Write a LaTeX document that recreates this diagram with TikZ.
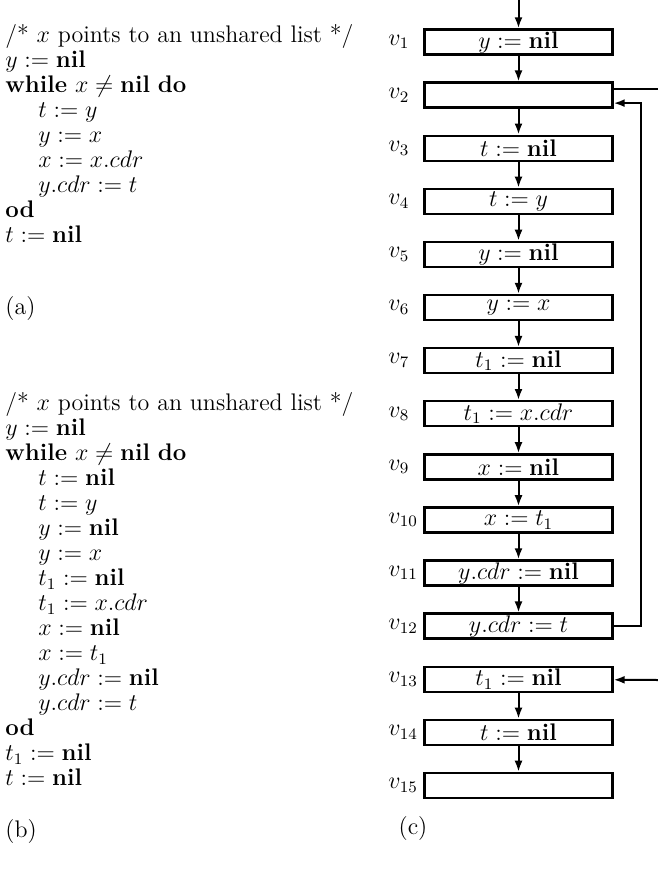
\documentclass[tikz,border=0pt]{standalone}
\usepackage{amsmath,amssymb}
\usetikzlibrary{arrows.meta,positioning,calc}

\newcommand{\nil}{\textbf{nil}}
\newcommand{\indt}{\hspace*{16.5pt}}

\begin{document}
\begin{tikzpicture}[x=0.5pt, y=-0.5pt,
  code/.style={anchor=north west, inner sep=0pt, align=left, font=\fontsize{12}{12.5}\selectfont},
  stmt/.style={draw, line width=1.2pt, minimum width=94pt, minimum height=12.5pt, inner sep=0pt, font=\fontsize{12}{13}\selectfont},
  vlab/.style={anchor=west, inner sep=0pt, font=\fontsize{12}{13}\selectfont},
  flow/.style={-{Latex[length=5.5pt,width=4pt]}, line width=1pt}]
  \useasboundingbox (0,0) rectangle (658,869);

  % Program (a)
  \node[code] (proga) at (5,24) {/* $x$ points to an unshared list */\\
    $y := \nil$\\
    \textbf{while} $x \neq \nil$ \textbf{do}\\
    \indt$t := y$\\
    \indt$y := x$\\
    \indt$x := x.cdr$\\
    \indt$y.cdr := t$\\
    \textbf{od}\\
    $t := \nil$};
  \node[code] (capa) at (5,296) {(a)};

  % Program (b)
  \node[code] (progb) at (5,392) {/* $x$ points to an unshared list */\\
    $y := \nil$\\
    \textbf{while} $x \neq \nil$ \textbf{do}\\
    \indt$t := \nil$\\
    \indt$t := y$\\
    \indt$y := \nil$\\
    \indt$y := x$\\
    \indt$t_1 := \nil$\\
    \indt$t_1 := x.cdr$\\
    \indt$x := \nil$\\
    \indt$x := t_1$\\
    \indt$y.cdr := \nil$\\
    \indt$y.cdr := t$\\
    \textbf{od}\\
    $t_1 := \nil$\\
    $t := \nil$};
  \node[code] (capb) at (5,819) {(b)};

  % Flow graph (c)
  \foreach \i/\stm in {1/{$y := \nil$}, 2/{}, 3/{$t := \nil$}, 4/{$t := y$},
      5/{$y := \nil$}, 6/{$y := x$}, 7/{$t_1 := \nil$}, 8/{$t_1 := x.cdr$},
      9/{$x := \nil$}, 10/{$x := t_1$}, 11/{$y.cdr := \nil$}, 12/{$y.cdr := t$},
      13/{$t_1 := \nil$}, 14/{$t := \nil$}, 15/{}} {
    \node[stmt] (v\i) at (518.5, 42+53.1*\i-53.1) {\stm};
    \node[vlab] (lab\i) at (388, 42+53.1*\i-53.1) {$v_{\i}$};
  }
  \node[code, anchor=north] (capc) at (413,816) {(c)};

  \coordinate (entry) at (518.5,0);
  \coordinate (exit) at (658,89);
  \coordinate (enter13) at (658,680);

  \draw[flow] (entry) -- (v1);
  \foreach \i/\j in {1/2,2/3,3/4,4/5,5/6,6/7,7/8,8/9,9/10,10/11,11/12,13/14,14/15}
    \draw[flow] (v\i) -- (v\j);

  % back edge and loop exit
  \draw[flow] (v12.east) -- ++(27,0) |- ($(v2.east)+(0,8)$);
  \draw[line width=1pt] (v2.east |- exit) -- (exit);
  \draw[flow] (enter13) -- (v13);
\end{tikzpicture}
\end{document}
